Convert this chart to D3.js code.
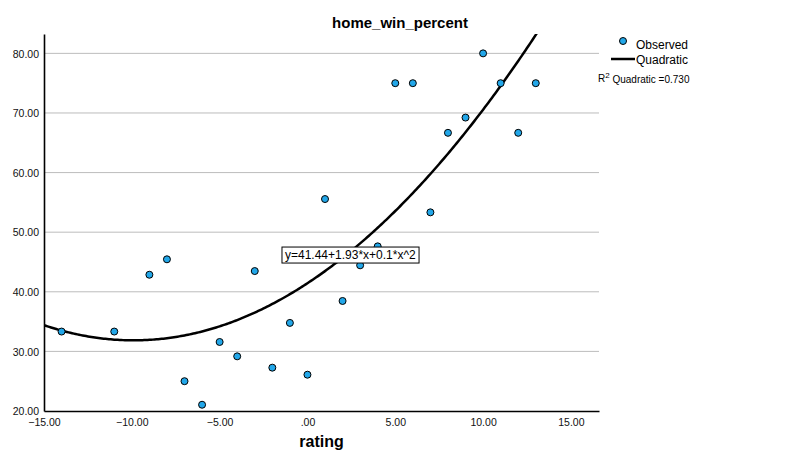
<!DOCTYPE html>
<html>
<head>
<meta charset="utf-8">
<script src="https://cdn.jsdelivr.net/npm/d3@7"></script>
<style>
  body { margin: 0; background: #fff; }
  text { font-family: "Liberation Sans", Arial, sans-serif; }
</style>
</head>
<body>
<div id="chart"></div>
<script>
// data
var rating = [-14, -11, -9, -8, -7, -6, -5, -4, -3, -2, -1, 0, 1, 2, 3, 4, 5, 6, 7, 8, 9, 10, 11, 12, 13];
var homeWinPercent = [33.33, 33.33, 42.86, 45.45, 25.0, 21.05, 31.58, 29.17, 43.48, 27.27, 34.78, 26.09,
                      55.56, 38.46, 44.44, 47.62, 75.0, 75.0, 53.33, 66.67, 69.23, 80.0, 75.0, 66.67, 75.0];
var eqLabel = "y=41.44+1.93*x+0.1*x^2";
var r2Label = " Quadratic =0.730";
var xTicks = [-15, -10, -5, 0, 5, 10, 15];
var yTicks = [20, 30, 40, 50, 60, 70, 80];
var xDomain = [-15, 16.6];
var yDomain = [20, 83.25];

var width = 800, height = 471;
var m = {left: 44, right: 201, top: 34, bottom: 60};

// least squares quadratic fit of the observed points
function fitQuadratic(xs, ys) {
	var s = [0, 0, 0, 0, 0], t = [0, 0, 0];
	xs.forEach(function(v, i) {
		for (var k = 0; k < 5; k++) s[k] += Math.pow(v, k);
		for (var k = 0; k < 3; k++) t[k] += ys[i] * Math.pow(v, k);
	});
	var A = [[s[0], s[1], s[2], t[0]], [s[1], s[2], s[3], t[1]], [s[2], s[3], s[4], t[2]]];
	for (var c = 0; c < 3; c++) {
		for (var r = c + 1; r < 3; r++) {
			var f = A[r][c] / A[c][c];
			for (var k = c; k < 4; k++) A[r][k] -= f * A[c][k];
		}
	}
	var b = [0, 0, 0];
	for (var r = 2; r >= 0; r--) {
		var sum = A[r][3];
		for (var k = r + 1; k < 3; k++) sum -= A[r][k] * b[k];
		b[r] = sum / A[r][r];
	}
	return b;
}
var quadCoef = fitQuadratic(rating, homeWinPercent);

var svg = d3.select("#chart").append("svg")
	.attr("width", width)
	.attr("height", height);

var x = d3.scaleLinear().domain(xDomain).range([m.left, width - m.right]);
var y = d3.scaleLinear().domain(yDomain).range([height - m.bottom, m.top]);

// title
svg.append("text")
	.attr("x", width / 2)
	.attr("y", 28)
	.attr("text-anchor", "middle")
	.style("font-size", "15px")
	.style("font-weight", "bold")
	.text("home_win_percent");

// gridlines
svg.append("g").selectAll("line")
	.data(yTicks.filter(function(d) { return d > yDomain[0]; }))
	.enter().append("line")
	.attr("x1", x(xDomain[0]))
	.attr("x2", x(xDomain[1]))
	.attr("y1", function(d) { return y(d); })
	.attr("y2", function(d) { return y(d); })
	.attr("stroke", "#bcbcbc")
	.attr("stroke-width", 1);

// axes
var fmt = function(d) { return d === 0 ? ".00" : d3.format(".2f")(d); };

var yAxis = svg.append("g")
	.attr("transform", "translate(" + x(xDomain[0]) + ",0)")
	.call(d3.axisLeft(y).tickValues(yTicks).tickFormat(fmt).tickSize(0).tickPadding(5));
var xAxis = svg.append("g")
	.attr("transform", "translate(0," + y(yDomain[0]) + ")")
	.call(d3.axisBottom(x).tickValues(xTicks).tickFormat(fmt).tickSize(0).tickPadding(8));

[xAxis, yAxis].forEach(function(a) {
	a.select(".domain").attr("stroke", "#000").attr("stroke-width", 1.6);
	a.selectAll("text").style("font-size", "10.5px").style("font-family", "'Liberation Sans', Arial, sans-serif").attr("fill", "#111");
});
yAxis.selectAll(".tick text").attr("dy", "0.36em");

// x axis label
svg.append("text")
	.attr("x", (x(xDomain[0]) + x(xDomain[1])) / 2)
	.attr("y", 447)
	.attr("text-anchor", "middle")
	.style("font-size", "16px")
	.style("font-weight", "bold")
	.text("rating");

// clip for fit line
svg.append("clipPath").attr("id", "plotclip")
	.append("rect")
	.attr("x", x(xDomain[0]))
	.attr("y", y(yDomain[1]))
	.attr("width", x(xDomain[1]) - x(xDomain[0]))
	.attr("height", y(yDomain[0]) - y(yDomain[1]));

var quad = function(v) { return quadCoef[0] + quadCoef[1] * v + quadCoef[2] * v * v; };
var curveX = d3.range(xDomain[0], xDomain[1] + 0.001, 0.1);

svg.append("path")
	.datum(curveX)
	.attr("clip-path", "url(#plotclip)")
	.attr("fill", "none")
	.attr("stroke", "#000")
	.attr("stroke-width", 2.5)
	.attr("d", d3.line()
		.x(function(d) { return x(d); })
		.y(function(d) { return y(quad(d)); }));

// points
svg.append("g").selectAll("circle")
	.data(rating)
	.enter().append("circle")
	.attr("cx", function(d) { return x(d); })
	.attr("cy", function(d, i) { return y(homeWinPercent[i]); })
	.attr("r", 3.5)
	.attr("fill", "#22a7e9")
	.attr("stroke", "#000")
	.attr("stroke-width", 1);

// equation label
var eq = svg.append("g").attr("transform", "translate(" + x(-1.45) + "," + y(46.2) + ")");
var eqText = eq.append("text")
	.attr("x", 3)
	.attr("y", 0)
	.attr("dy", "0.35em")
	.style("font-size", "12px")
	.text(eqLabel);
var bb = eqText.node().getBBox();
eq.insert("rect", "text")
	.attr("x", 0)
	.attr("y", bb.y - 1)
	.attr("width", bb.width + 6)
	.attr("height", bb.height + 2)
	.attr("fill", "#fff")
	.attr("stroke", "#000")
	.attr("stroke-width", 1);

// legend
var legend = svg.append("g");
legend.append("circle")
	.attr("cx", 623)
	.attr("cy", 41)
	.attr("r", 3.5)
	.attr("fill", "#22a7e9")
	.attr("stroke", "#000")
	.attr("stroke-width", 1);
legend.append("text")
	.attr("x", 636)
	.attr("y", 49)
	.style("font-size", "12px")
	.text("Observed");
legend.append("line")
	.attr("x1", 611).attr("x2", 635)
	.attr("y1", 59).attr("y2", 59)
	.attr("stroke", "#000")
	.attr("stroke-width", 2.5);
legend.append("text")
	.attr("x", 636)
	.attr("y", 64)
	.style("font-size", "12px")
	.text("Quadratic");
var r2 = legend.append("text")
	.attr("x", 598)
	.attr("y", 82)
	.style("font-size", "10px");
r2.append("tspan").text("R");
r2.append("tspan").attr("dy", "-0.45em").style("font-size", "8px").text("2");
r2.append("tspan").attr("dy", "0.45em").text(r2Label);
</script>
</body>
</html>
